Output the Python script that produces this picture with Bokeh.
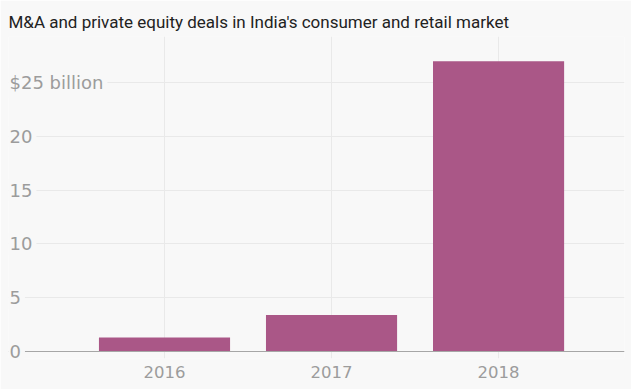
from bokeh.plotting import figure
from bokeh.models import Range1d, FixedTicker, Label, Span
from bokeh.embed import file_html
from bokeh.resources import INLINE

# ---- data ----
years = [2016, 2017, 2018]
deals = [1.3, 3.4, 27.0]          # $ billion
y_ticks = [0, 5, 10, 15, 20, 25]
y_tick_labels = ["0", "5", "10", "15", "20", "$25 billion"]
title_text = "M&A and private equity deals in India's consumer and retail market"

BG = "#f8f8f8"
BAR = "#aa5787"
GRID = "#e9e9e9"
LABEL = "#9c9c9c"
TITLE_FONT = "Roboto"
FONT = "DejaVu Sans"

p = figure(width=631, height=389, output_backend="svg", toolbar_location=None,
           x_range=Range1d(2015.066, 2018.754), y_range=Range1d(-0.65, 29.3),
           min_border_left=8, min_border_right=7, min_border_top=36, min_border_bottom=31,
           background_fill_color=BG, border_fill_color=BG, outline_line_color=None)

p.title.text = title_text
p.title.text_font = TITLE_FONT
p.title.text_font_size = "17px"
p.title.text_font_style = "normal"
p.title.text_color = "#222222"
p.title.align = "left"
p.title.offset = 0
p.title.standoff = 9

p.vbar(x=years, top=deals, width=0.785, bottom=0, fill_color=BAR, line_color=None)

# grids
p.ygrid.ticker = FixedTicker(ticks=y_ticks)
p.ygrid.grid_line_color = GRID
p.xgrid.ticker = FixedTicker(ticks=years)
p.xgrid.grid_line_color = GRID

# baseline
p.add_layout(Span(location=0, dimension="width", line_color="#a6a6a6", line_width=1))

# axes
p.yaxis.visible = False
xa = p.xaxis[0]
xa.ticker = FixedTicker(ticks=years)
xa.major_label_overrides = {y: str(y) for y in years}
xa.axis_line_color = None
xa.major_tick_line_color = None
xa.major_tick_out = 0
xa.major_tick_in = 0
xa.minor_tick_line_color = None
xa.major_label_standoff = 7
xa.major_label_text_font = FONT
xa.major_label_text_font_size = "16.5px"
xa.major_label_text_color = LABEL

# y tick labels drawn inside the plot, masking the gridlines
for t, lab in zip(y_ticks, y_tick_labels):
    p.add_layout(Label(x=p.x_range.start, y=t, text=lab, text_align="left",
                       text_baseline="middle", text_font=FONT, text_font_size="18px",
                       text_color=LABEL, background_fill_color=BG,
                       padding=4, x_offset=-3))

open("out.html", "w").write(file_html(p, INLINE))
